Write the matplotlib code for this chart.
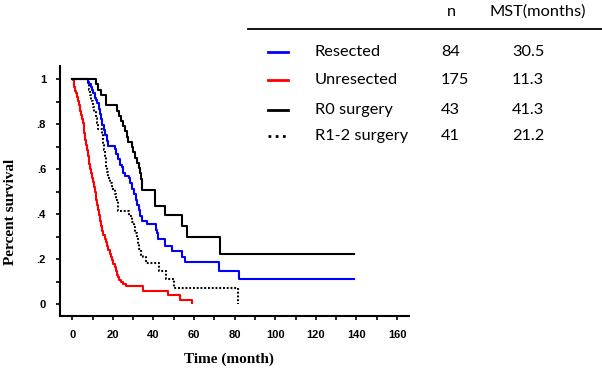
import matplotlib
matplotlib.use("Agg")
import matplotlib.pyplot as plt
import numpy as np

# ---------------- data ----------------
resected_t = [7.5, 8.2, 9.0, 9.6, 10.4, 11.0, 11.5, 12.3, 13.0, 13.6, 14.2, 14.8, 15.6, 16.3,
              17.0, 17.8, 20.9, 21.5, 22.5, 23.5, 24.3, 25.0, 26.0, 27.8, 28.5, 29.5, 30.5,
              31.2, 32.0, 32.8, 33.6, 34.4, 36.6, 41.0, 41.8, 42.4, 45.6, 48.9, 53.9, 55.6,
              72.2, 82.0]
resected_s = [0.988, 0.976, 0.964, 0.952, 0.940, 0.917, 0.905, 0.893, 0.869, 0.845, 0.821, 0.798,
              0.774, 0.750, 0.726, 0.702, 0.690, 0.667, 0.643, 0.620, 0.607, 0.583, 0.571, 0.560,
              0.536, 0.512, 0.488, 0.464, 0.440, 0.416, 0.393, 0.369, 0.355, 0.330, 0.314, 0.290,
              0.258, 0.234, 0.210, 0.187, 0.148, 0.111]
resected_end = 139.0

unresected_t = [0.3, 0.6, 1.0, 1.4, 1.8, 2.3, 2.8, 3.2, 3.6, 4.0, 4.4, 4.8, 5.2, 5.6, 6.0, 6.4,
                6.8, 7.2, 7.6, 8.0, 8.4, 8.8, 9.3, 9.8, 10.3, 10.8, 11.3, 11.8, 12.3, 12.8, 13.3,
                13.8, 14.3, 14.8, 15.3, 15.9, 16.5, 17.2, 17.8, 18.4, 19.0, 19.6, 20.2, 20.8,
                21.4, 21.9, 22.5, 23.2, 24.0, 25.0, 26.6, 34.8, 47.1, 53.0, 58.8]
unresected_s = [0.994, 0.983, 0.966, 0.949, 0.937, 0.920, 0.903, 0.886, 0.874, 0.857, 0.840, 0.823,
                0.806, 0.783, 0.760, 0.731, 0.709, 0.686, 0.657, 0.640, 0.623, 0.600, 0.583, 0.560,
                0.543, 0.520, 0.497, 0.463, 0.440, 0.417, 0.394, 0.371, 0.349, 0.326, 0.309, 0.291,
                0.274, 0.257, 0.240, 0.223, 0.211, 0.194, 0.177, 0.166, 0.149, 0.131, 0.120, 0.109,
                0.097, 0.089, 0.080, 0.059, 0.040, 0.018, 0.004]

r0_t = [11.5, 12.8, 14.3, 16.8, 21.8, 22.8, 23.8, 24.8, 25.8, 26.8, 27.6, 29.5, 30.0, 31.0, 32.0,
        32.8, 33.4, 34.0, 34.5, 40.8, 45.6, 53.9, 56.3, 72.7]
r0_s = [0.977, 0.953, 0.930, 0.884, 0.860, 0.837, 0.814, 0.791, 0.767, 0.744, 0.721, 0.698, 0.674,
        0.651, 0.628, 0.605, 0.581, 0.558, 0.508, 0.437, 0.396, 0.348, 0.296, 0.222]
r0_end = 139.0

r12_t = [7.6, 8.2, 8.8, 9.4, 10.0, 10.8, 11.5, 12.3, 12.8, 14.5, 14.9, 15.3, 15.7, 16.0, 16.4,
         16.8, 17.2, 17.8, 18.4, 19.8, 21.0, 21.6, 22.3, 22.7, 28.0, 29.2, 30.2, 31.0, 31.8, 32.4,
         33.0, 34.0, 35.0, 36.5, 42.8, 46.0, 50.0, 81.8]
r12_s = [0.976, 0.951, 0.927, 0.902, 0.878, 0.854, 0.829, 0.805, 0.780, 0.756, 0.732, 0.707, 0.683,
         0.659, 0.634, 0.610, 0.585, 0.561, 0.537, 0.512, 0.488, 0.463, 0.439, 0.415, 0.390, 0.366,
         0.341, 0.317, 0.293, 0.268, 0.244, 0.220, 0.207, 0.183, 0.146, 0.110, 0.073, 0.0]

groups = ["Resected", "Unresected", "R0 surgery", "R1-2 surgery"]
n_values = ["84", "175", "43", "41"]
mst_values = ["30.5", "11.3", "41.3", "21.2"]

x_ticks = [0, 20, 40, 60, 80, 100, 120, 140, 160]
y_ticks = [0, 0.2, 0.4, 0.6, 0.8, 1.0]
y_ticklabels = ["0", ".2", ".4", ".6", ".8", "1"]

# ---------------- figure ----------------
W, H = 602, 370
fig = plt.figure(figsize=(W / 100, H / 100), dpi=100)
ax = fig.add_axes([60 / W, 1 - 316 / H, (409 - 60) / W, (316 - 66) / H])


def km(t, s, end=None):
    tt = [0.0] + list(t)
    ss = [1.0] + list(s)
    if end is not None:
        tt.append(end)
        ss.append(ss[-1])
    return tt, ss


lw = 1.5
dot = (0, (0.9, 0.9))
ax.step(*km(r12_t, r12_s), where="post", color="black", lw=lw, linestyle=dot)
ax.step(*km(unresected_t, unresected_s), where="post", color="#ff0000", lw=lw)
ax.step(*km(resected_t, resected_s, resected_end), where="post", color="#0000ff", lw=lw)
ax.step(*km(r0_t, r0_s, r0_end), where="post", color="black", lw=lw)

ax.set_xlim(-6.06, 165.9)
ax.set_ylim(-0.053, 1.058)

for side in ["top", "right"]:
    ax.spines[side].set_visible(False)
for side in ["left", "bottom"]:
    ax.spines[side].set_linewidth(1.5)

tick_font = dict(family="Liberation Sans", weight="bold", size=8)
ax.set_xticks(x_ticks)
ax.set_xticklabels([str(v) for v in x_ticks], fontdict=tick_font)
ax.set_xticks(np.arange(10, 170, 20), minor=True)
ax.set_yticks(y_ticks)
ax.set_yticklabels(y_ticklabels, fontdict=tick_font)
ax.set_yticks(np.arange(0.1, 1.0, 0.2), minor=True)
ax.tick_params(axis="x", which="both", direction="out", length=3, width=1.2, pad=7)
ax.tick_params(axis="y", which="both", direction="out", length=3, width=1.2, pad=7)

fig.text(11 / W, 1 - 212 / H, "Percent survival", rotation=90, ha="center", va="center",
         family="Liberation Serif", weight="bold", fontsize=11)
fig.text(229 / W, 1 - 359 / H, "Time (month)", ha="center", va="center",
         family="Liberation Serif", weight="bold", fontsize=11)

# ---------------- legend table ----------------
tf = dict(family="Lato", fontsize=11.8)
fig.text(451 / W, 1 - 12 / H, "n", ha="center", va="center", **tf)
fig.text(538 / W, 1 - 12 / H, "MST(months)", ha="center", va="center", **tf)
fig.add_artist(plt.Line2D([248 / W, 1.0], [1 - 29 / H, 1 - 29 / H], color="black", lw=1.3,
                          transform=fig.transFigure))

row_y = [52, 80, 110, 136]
row_styles = [dict(color="#0000ff", ls="-"), dict(color="#ff0000", ls="-"),
              dict(color="black", ls="-"), dict(color="black", ls=(0, (1, 1.6)))]
for y, g, n, m, st in zip(row_y, groups, n_values, mst_values, row_styles):
    yf = 1 - y / H
    fig.add_artist(plt.Line2D([268 / W, 288 / W], [yf, yf], lw=2, transform=fig.transFigure,
                              color=st["color"], linestyle=st["ls"]))
    fig.text(315 / W, yf, g, ha="left", va="center", **tf)
    fig.text(441 / W, yf, n, ha="left", va="center", **tf)
    fig.text(512 / W, yf, m, ha="left", va="center", **tf)

fig.savefig("out.png", dpi=100)
